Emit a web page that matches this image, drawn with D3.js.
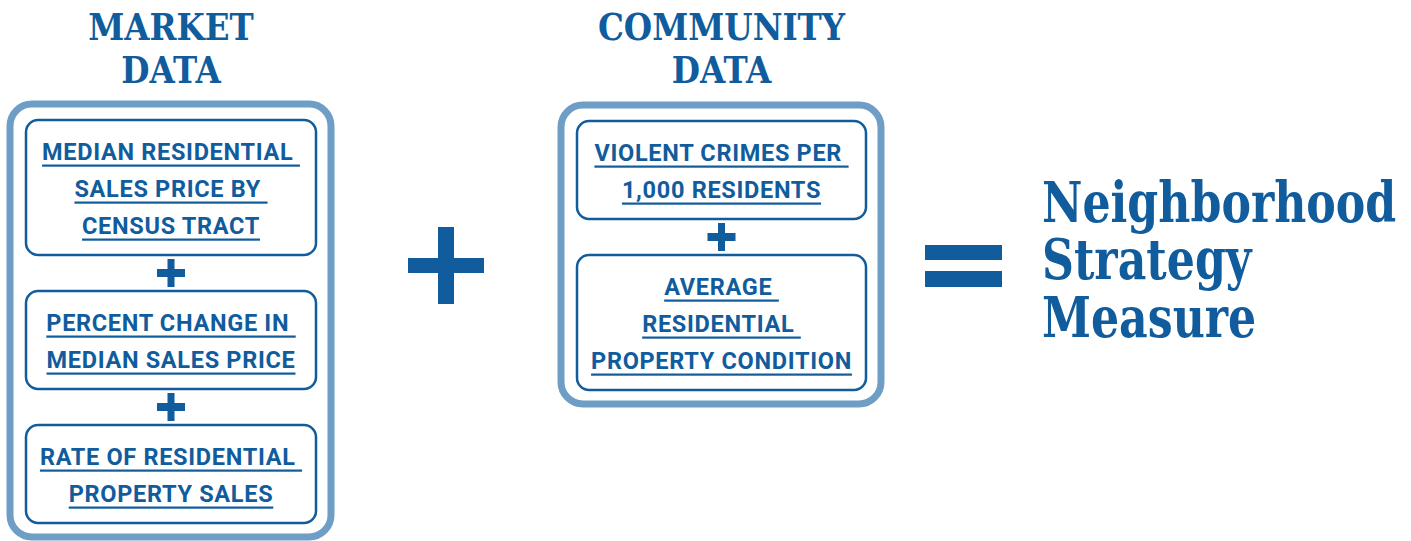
<!DOCTYPE html>
<html>
<head>
<meta charset="utf-8">
<script src="https://cdn.jsdelivr.net/npm/d3@7"></script>
<style>
  body { margin: 0; background: #fff; }
  text { white-space: pre; }
</style>
</head>
<body>
<div id="chart"></div>
<script>
// content of the diagram
const marketTitle = ["MARKET", "DATA"];
const communityTitle = ["COMMUNITY", "DATA"];
const marketItems = [
  ["MEDIAN RESIDENTIAL ", "SALES PRICE BY ", "CENSUS TRACT"],
  ["PERCENT CHANGE IN ", "MEDIAN SALES PRICE"],
  ["RATE OF RESIDENTIAL ", "PROPERTY SALES"]
];
const communityItems = [
  ["VIOLENT CRIMES PER ", "1,000 RESIDENTS"],
  ["AVERAGE ", "RESIDENTIAL ", "PROPERTY CONDITION"]
];
const resultLines = ["Neighborhood", "Strategy", "Measure"];

const width = 1411, height = 541;
const dark = "#115c9d", light = "#6e9ec6";
const lineH = 37, boxPad = 24, boxGap = 36;
const itemScale = 0.98, titleScale = 0.88, resultScale = 0.79;
const serif = "'DejaVu Serif', 'Liberation Serif', serif";

const svg = d3.select("#chart").append("svg")
    .attr("width", width)
    .attr("height", height);

// draws a line of text squeezed horizontally around cx
function squeezed(parent, str, cx, y, k) {
  const g = parent.append("g")
      .attr("transform", "translate(" + cx + "," + y + ") scale(" + k + ",1)");
  return g.append("text")
      .attr("text-anchor", "middle")
      .text(str);
}

function panel(x0, x1, top, title, items) {
  const g = svg.append("g");
  const cx = (x0 + x1) / 2;

  title.forEach((s, i) => {
    squeezed(g, s, cx, 40 + i * 43, titleScale)
      .style("font-family", serif)
      .style("font-weight", "bold")
      .style("font-size", "37px")
      .style("fill", dark);
  });

  let y = top;
  items.forEach((lines, bi) => {
    const h = lines.length * lineH + boxPad;
    if (bi > 0) {
      const py = y - boxGap / 2;
      g.append("rect").attr("x", cx - 14).attr("y", py - 4).attr("width", 28).attr("height", 8).attr("fill", dark);
      g.append("rect").attr("x", cx - 3.5).attr("y", py - 14).attr("width", 7).attr("height", 28).attr("fill", dark);
    }
    g.append("rect")
      .attr("x", x0).attr("y", y)
      .attr("width", x1 - x0).attr("height", h)
      .attr("rx", 12)
      .attr("fill", "none")
      .attr("stroke", dark)
      .attr("stroke-width", 2.5);
    lines.forEach((s, li) => {
      const by = y + 40 + li * lineH;
      const t = squeezed(g, s, cx, by, itemScale)
        .style("font-family", "Roboto, sans-serif")
        .style("font-weight", "bold")
        .style("font-size", "24px")
        .style("letter-spacing", "0.7px")
        .style("fill", dark);
      const w = t.node().getComputedTextLength() * itemScale;
      g.append("rect")
        .attr("x", cx - w / 2).attr("y", by + 4.5)
        .attr("width", w).attr("height", 2.2)
        .attr("fill", dark);
    });
    y += h + boxGap;
  });
  const bottom = y - boxGap;
  g.insert("rect", ":first-child")
    .attr("x", x0 - 16).attr("y", top - 16)
    .attr("width", x1 - x0 + 31).attr("height", bottom - top + 30)
    .attr("rx", 22)
    .attr("fill", "none")
    .attr("stroke", light)
    .attr("stroke-width", 7);
}

panel(26, 316, 120, marketTitle, marketItems);
panel(577, 866, 121, communityTitle, communityItems);

// big plus
const plus = svg.append("g").attr("transform", "translate(446,265.5)");
plus.append("rect").attr("x", -38).attr("y", -7.5).attr("width", 76).attr("height", 15).attr("fill", dark);
plus.append("rect").attr("x", -8).attr("y", -38.5).attr("width", 16).attr("height", 77).attr("fill", dark);

// equals
const eq = svg.append("g").attr("transform", "translate(925,245)");
eq.append("rect").attr("width", 77).attr("height", 15).attr("fill", dark);
eq.append("rect").attr("y", 26).attr("width", 77).attr("height", 16).attr("fill", dark);

// result text, one block
svg.append("g")
    .attr("transform", "translate(1042,222) scale(" + resultScale + ",1)")
  .append("text")
    .style("font-family", serif)
    .style("font-weight", "bold")
    .style("font-size", "56px")
    .style("fill", dark)
  .selectAll("tspan")
  .data(resultLines)
  .join("tspan")
    .attr("x", 0)
    .attr("y", (d, i) => i * 57.5)
    .text(d => d);
</script>
</body>
</html>
